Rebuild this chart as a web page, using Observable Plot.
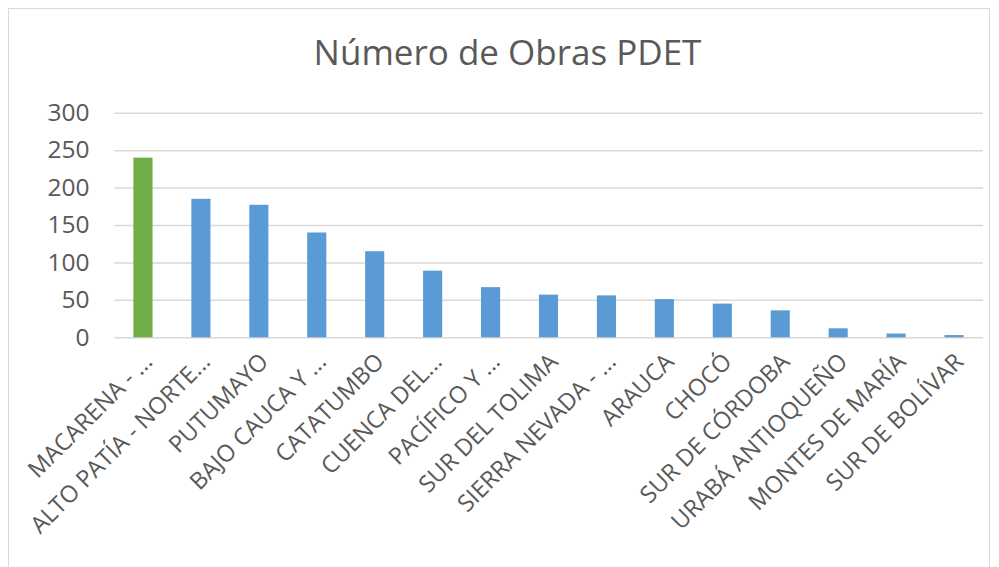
<!DOCTYPE html>
<html><head><meta charset="utf-8">
<script src="https://cdn.jsdelivr.net/npm/d3@7"></script>
<script src="https://cdn.jsdelivr.net/npm/@observablehq/plot@0.6"></script>
<style>
body{margin:0;background:#fff;font-family:"Open Sans",sans-serif;}
#wrap{position:relative;width:999px;height:567px;overflow:hidden;background:#fff;}
#frame{position:absolute;left:8px;top:8px;width:982px;height:620px;border:1px solid #d9d9d9;box-sizing:border-box;}
#title{position:absolute;left:16px;top:31px;width:983px;text-align:center;font-size:35px;color:#595959;line-height:1.2;}
#chart{position:absolute;left:0;top:90px;}
</style>
</head><body>
<div id="wrap"><div id="frame"></div><div id="title">Número de Obras PDET</div><div id="chart"></div></div>
<script>
const regions = ["MACARENA - ...","ALTO PATÍA - NORTE...","PUTUMAYO","BAJO CAUCA Y ...","CATATUMBO","CUENCA DEL...","PACÍFICO Y ...","SUR DEL TOLIMA","SIERRA NEVADA - ...","ARAUCA","CHOCÓ","SUR DE CÓRDOBA","URABÁ ANTIOQUEÑO","MONTES DE MARÍA","SUR DE BOLÍVAR"];
const obras = [240,185,177,140,115,89,67,57,56,51,45,36,12,5,3];
const yTicks = [0,50,100,150,200,250,300];
const highlighted = ["MACARENA - ..."];

const data = regions.map((r,i)=>({region:r, obras:obras[i]}));
const chart = Plot.plot({
  width: 999, height: 477,
  marginLeft: 114, marginRight: 16, marginTop: 22.7, marginBottom: 229.7,
  style: {fontFamily: '"Open Sans", sans-serif', color: "#595959", background: "transparent"},
  x: {domain: regions, paddingInner: 0.67, paddingOuter: 0.335, round: false},
  y: {domain: [0,300]},
  marks: [
    Plot.ruleY(yTicks, {stroke: "#d9d9d9", strokeWidth: 1.5}),
    Plot.barY(data, {x: "region", y: "obras", fill: d => highlighted.includes(d.region) ? "#70ad47" : "#5b9bd5"}),
    Plot.axisY({ticks: yTicks, tickSize: 0, tickPadding: 25, fontSize: 24.5, fill: "#595959", label: null}),
    Plot.axisX({tickSize: 0, tickRotate: -45, tickPadding: 20, dx: 5, fontSize: 23.5, fill: "#595959", label: null})
  ]
});
document.getElementById("chart").appendChild(chart);
</script>
</body></html>
